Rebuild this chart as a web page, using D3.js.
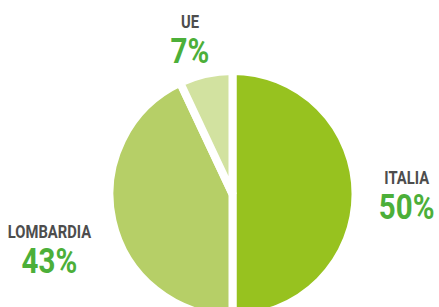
<!DOCTYPE html>
<html>
<head>
<meta charset="utf-8">
<script src="https://cdn.jsdelivr.net/npm/d3@7"></script>
<style>
  html, body { margin: 0; padding: 0; background: #fff; overflow: hidden; }
</style>
</head>
<body>
<div id="chart"></div>
<script>
  // data
  var labels = ["ITALIA", "LOMBARDIA", "UE"];
  var values = [50, 43, 7];
  var colors = ["#97c21f", "#b6cf67", "#d2e2a0"];

  var W = 439, H = 307;
  var FONT = "Roboto, 'Liberation Sans', sans-serif";
  var cx = 232.5, cy = 194, R = 123;

  var svg = d3.select("#chart").append("svg")
    .attr("width", W).attr("height", H)
    .style("display", "block");

  var pie = d3.pie().sort(null).value(function (d) { return d; });
  var arc = d3.arc().innerRadius(0).outerRadius(R);
  var arcs = pie(values);

  var g = svg.append("g").attr("transform", "translate(" + cx + "," + cy + ")");

  g.selectAll("path.slice")
    .data(arcs)
    .enter().append("path")
    .attr("class", "slice")
    .attr("d", arc)
    .attr("fill", function (d, i) { return colors[i]; })
    .attr("stroke", "#fff")
    .attr("stroke-width", 8)
    .attr("stroke-linejoin", "miter");

  // label anchors (layout only): x centre, name baseline
  var labelArc = d3.arc().innerRadius(R * 1.4).outerRadius(R * 1.4);
  var nudge = {
    "ITALIA": [2, -10],
    "LOMBARDIA": [-15, 6],
    "UE": [-5, 2]
  };

  arcs.forEach(function (d, i) {
    var c = labelArc.centroid(d);
    var n = nudge[labels[i]];
    var lx = cx + c[0] + n[0], ly = cy + c[1] + n[1];
    var lg = svg.append("g").attr("transform", "translate(" + lx + "," + ly + ") scale(0.82,1)");
    lg.append("text")
      .attr("text-anchor", "middle")
      .attr("fill", "#4d4d4d")
      .attr("font-family", FONT)
      .attr("font-weight", "700")
      .attr("font-size", "18px")
      .text(labels[i]);
    lg.append("text")
      .attr("y", 35)
      .attr("text-anchor", "middle")
      .attr("fill", "#4caf39")
      .attr("font-family", FONT)
      .attr("font-weight", "700")
      .attr("font-size", "36px")
      .text(values[i] + "%");
  });
</script>
</body>
</html>
